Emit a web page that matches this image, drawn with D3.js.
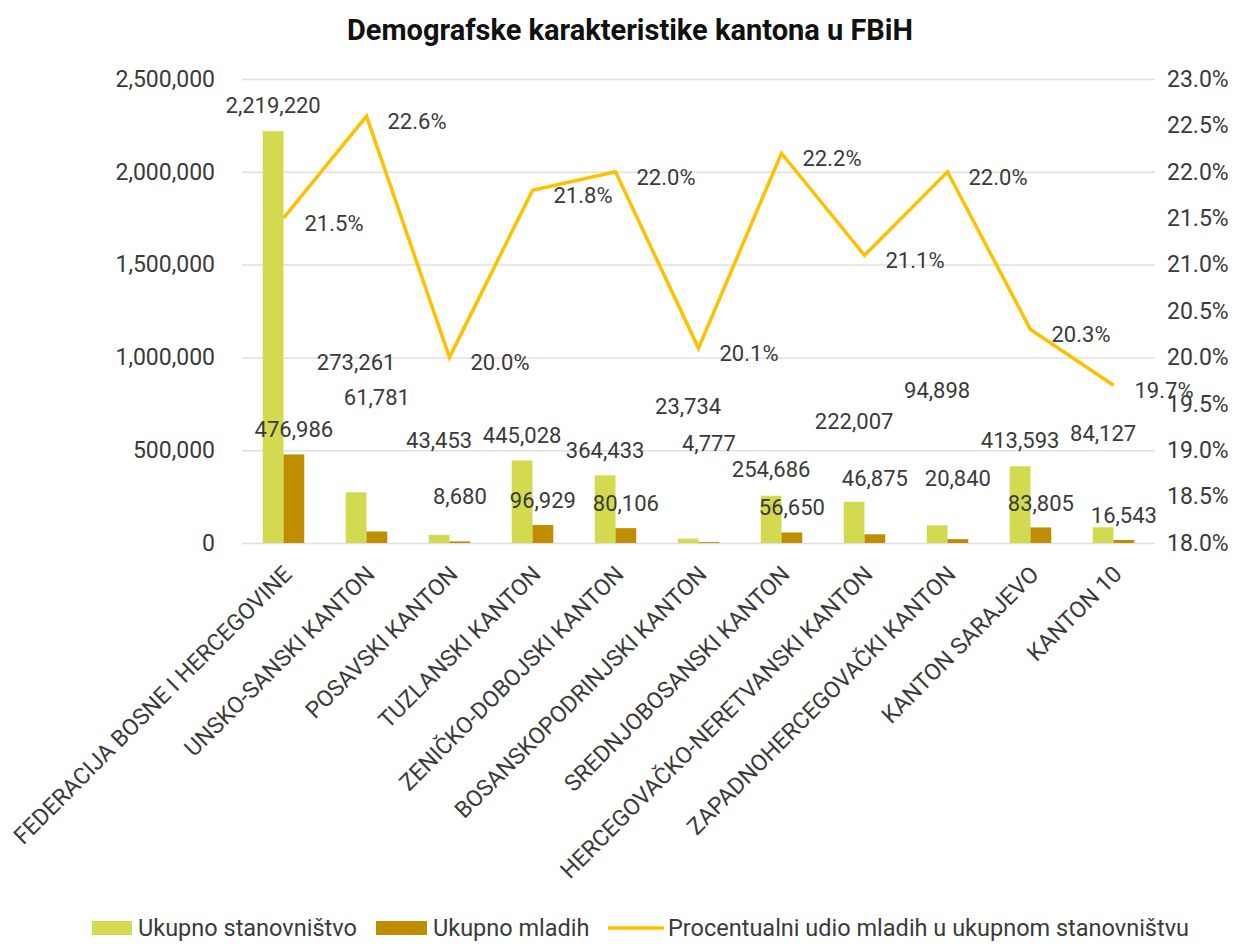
<!DOCTYPE html>
<html>
<head>
<meta charset="utf-8">
<script src="https://cdn.jsdelivr.net/npm/d3@7"></script>
<style>
  body { margin: 0; background: #fff; }
  svg text { font-family: Roboto, "Liberation Sans", sans-serif; fill: #3a3a3a; }
</style>
</head>
<body>
<svg id="chart" width="1250" height="944"></svg>
<script>
// kategorije (kantoni)
const kantoni = [
    "FEDERACIJA BOSNE I HERCEGOVINE",
    "UNSKO-SANSKI KANTON",
    "POSAVSKI KANTON",
    "TUZLANSKI KANTON",
    "ZENIČKO-DOBOJSKI KANTON",
    "BOSANSKOPODRINJSKI KANTON",
    "SREDNJOBOSANSKI KANTON",
    "HERCEGOVAČKO-NERETVANSKI KANTON",
    "ZAPADNOHERCEGOVAČKI KANTON",
    "KANTON SARAJEVO",
    "KANTON 10"
]

// serije
const ukupnoStanovnistvo = [2219220, 273261, 43453, 445028, 364433, 23734, 254686, 222007, 94898, 413593, 84127]
const ukupnoMladih       = [476986, 61781, 8680, 96929, 80106, 4777, 56650, 46875, 20840, 83805, 16543]
const procenatMladih     = [21.5, 22.6, 20.0, 21.8, 22.0, 20.1, 22.2, 21.1, 22.0, 20.3, 19.7]

// oznake osa
const lijeviTicks = [0, 500000, 1000000, 1500000, 2000000, 2500000]
const desniTicks  = [18.0, 18.5, 19.0, 19.5, 20.0, 20.5, 21.0, 21.5, 22.0, 22.5, 23.0]

const legenda = ["Ukupno stanovništvo", "Ukupno mladih", "Procentualni udio mladih u ukupnom stanovništvu"]

// rucno pomjerene oznake (px iznad vrha stupca), kao u originalu
const podizanjeStan   = [26, 130, 95, 25, 25, 132, 26, 80, 135, 26, 94]
const podizanjeMladih = [25, 134, 45, 25, 25, 99, 25, 56, 61, 24, 25]

const boje = { stan: "#d3da4f", mladi: "#bf8e00", linija: "#ffc000", grid: "#e0e0e0" }

const svg = d3.select("#chart")
const plot = { left: 242, right: 1155, top: 79, bottom: 543 }

const x = d3.scaleBand()
            .domain(kantoni)
            .range([plot.left, plot.right])
            .paddingInner(0.5)
            .paddingOuter(0.25)

const x1 = d3.scaleBand()
             .domain(["stan", "mladi"])
             .range([0, x.bandwidth()])

const yL = d3.scaleLinear().domain([0, 2500000]).range([plot.bottom, plot.top])
const yR = d3.scaleLinear().domain([18, 23]).range([plot.bottom, plot.top])

// naslov
svg.append("text")
   .attr("x", 630)
   .attr("y", 40)
   .attr("text-anchor", "middle")
   .attr("font-size", 29)
   .attr("font-weight", "bold")
   .style("fill", "#111")
   .text("Demografske karakteristike kantona u FBiH")

// mreza + lijeva osa
svg.append("g")
   .attr("transform", "translate(" + plot.left + ",0)")
   .call(d3.axisLeft(yL).tickValues(lijeviTicks).tickSize(-(plot.right - plot.left)).tickPadding(27).tickFormat(d3.format(",")))
   .call(g => g.select(".domain").remove())
   .call(g => g.selectAll("line").attr("stroke", boje.grid).attr("stroke-width", 1.5))
   .call(g => g.selectAll("text").attr("font-size", 23).attr("font-family", null))

// desna osa
svg.append("g")
   .attr("transform", "translate(" + plot.right + ",0)")
   .call(d3.axisRight(yR).tickValues(desniTicks).tickSize(0).tickPadding(12).tickFormat(d => d.toFixed(1) + "%"))
   .call(g => g.select(".domain").remove())
   .call(g => g.selectAll("text").attr("font-size", 23).attr("font-family", null))

// kategorije (rotirane)
svg.append("g")
   .selectAll("text")
   .data(kantoni)
   .join("text")
   .attr("transform", d => "translate(" + (x(d) + x.bandwidth() / 2 + 4) + "," + (plot.bottom + 27) + ") rotate(-45)")
   .attr("text-anchor", "end")
   .attr("dy", "0.35em")
   .attr("font-size", 23)
   .text(d => d)

// stupci
const redovi = kantoni.map((k, i) => ({ k: k, i: i, stan: ukupnoStanovnistvo[i], mladi: ukupnoMladih[i] }))

const grupa = svg.append("g")
                 .selectAll("g")
                 .data(redovi)
                 .join("g")
                 .attr("transform", d => "translate(" + x(d.k) + ",0)")

grupa.selectAll("rect")
     .data(d => ["stan", "mladi"].map(s => ({ s: s, v: d[s] })))
     .join("rect")
     .attr("x", d => x1(d.s))
     .attr("width", x1.bandwidth())
     .attr("y", d => yL(d.v))
     .attr("height", d => yL(0) - yL(d.v))
     .attr("fill", d => boje[d.s])

// linija
const linija = d3.line()
                 .x((d, i) => x(kantoni[i]) + x.bandwidth() / 2)
                 .y(d => yR(d))

svg.append("path")
   .datum(procenatMladih)
   .attr("d", linija)
   .attr("fill", "none")
   .attr("stroke", boje.linija)
   .attr("stroke-width", 3.5)
   .attr("stroke-linejoin", "miter")

// oznake vrijednosti
const fmt = d3.format(",")
const oznake = svg.append("g").attr("font-size", 22)

redovi.forEach(d => {
    oznake.append("text")
          .attr("x", x(d.k) + x1("stan") + x1.bandwidth() / 2)
          .attr("y", yL(d.stan) - podizanjeStan[d.i])
          .attr("dy", "0.35em")
          .attr("text-anchor", "middle")
          .text(fmt(d.stan))
    oznake.append("text")
          .attr("x", x(d.k) + x1("mladi") + x1.bandwidth() / 2)
          .attr("y", yL(d.mladi) - podizanjeMladih[d.i])
          .attr("dy", "0.35em")
          .attr("text-anchor", "middle")
          .text(fmt(d.mladi))
})

procenatMladih.forEach((v, i) => {
    oznake.append("text")
          .attr("x", x(kantoni[i]) + x.bandwidth() / 2 + 21)
          .attr("y", yR(v) + 5)
          .attr("dy", "0.35em")
          .text(v.toFixed(1) + "%")
})

// legenda
const leg = svg.append("g").attr("transform", "translate(0,928)")
const legX = [92, 376, 608]
const legTextX = [138, 433, 668]

leg.append("rect").attr("x", legX[0]).attr("y", -7).attr("width", 40).attr("height", 14).attr("fill", boje.stan)
leg.append("rect").attr("x", legX[1]).attr("y", -7).attr("width", 51).attr("height", 14).attr("fill", boje.mladi)
leg.append("line").attr("x1", legX[2]).attr("x2", legX[2] + 56).attr("y1", 0).attr("y2", 0)
   .attr("stroke", boje.linija).attr("stroke-width", 3.5)

leg.selectAll("text.leg")
   .data(legenda)
   .join("text")
   .attr("class", "leg")
   .attr("x", (d, i) => legTextX[i])
   .attr("y", 0)
   .attr("dy", "0.35em")
   .attr("font-size", 23.5)
   .text(d => d)
</script>
</body>
</html>
